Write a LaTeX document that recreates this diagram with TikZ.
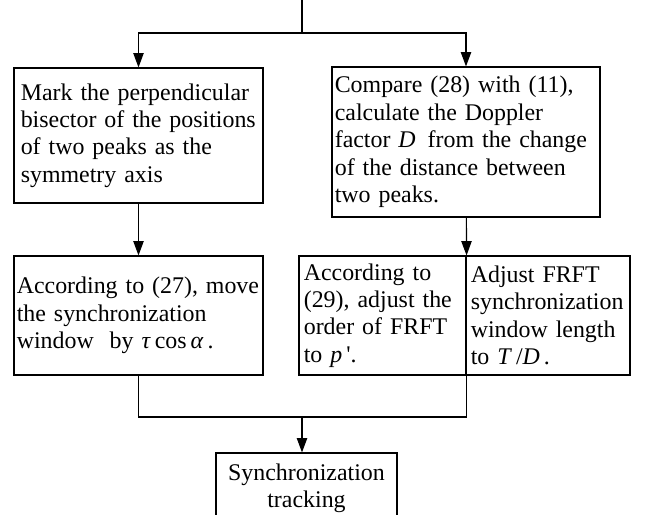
\documentclass[tikz,border=0pt]{standalone}
\usepackage{fontspec}
\setmainfont{Liberation Serif}
\usetikzlibrary{arrows.meta}

\begin{document}
\begin{tikzpicture}[line width=0.8pt,
        box/.style={draw,rectangle,align=left,inner xsep=0.17cm,inner ysep=0cm,
                    font=\fontsize{17}{19.5}\selectfont},
        arr/.style={arrows = -{Triangle[length=3.6mm,width=2.6mm]}}]

        %\draw [help lines] (0,0) grid (16,13);
        \clip (0,0) rectangle (16.15,12.85);

        \path   (7.55,12.85) coordinate (in)
                (7.55,12.025) coordinate (split)
                (3.4625,9.4625) node (mark) [box,text width=5.885cm,minimum height=3.375cm]
                        {Mark the perpendicular\\ bisector of the positions\\ of two peaks as the\\ symmetry axis}
                (11.65,9.3) node (compare) [box,inner xsep=0.07cm,text width=6.56cm,minimum height=3.75cm]
                        {Compare (28) with (11),\\ calculate the Doppler\\ factor \textit{D}\enspace from the change\\ of the distance between\\ two peaks.}
                (3.4625,4.9625) node (move) [box,inner xsep=0.07cm,text width=6.085cm,minimum height=2.975cm]
                        {According to (27), move\\ the synchronization\\ window\ \ by \textit{τ}\,cos\,\textit{α}\,.}
                (9.5625,4.9625) node (order) [box,inner xsep=0.12cm,text width=3.935cm,minimum height=2.975cm]
                        {According to\\ (29), adjust the\\ order of FRFT\\ to \textit{p}\,\textquotesingle.}
                (13.7,4.9625) node (window) [box,inner xsep=0.12cm,text width=3.86cm,minimum height=2.975cm]
                        {Adjust FRFT\\ synchronization\\ window length\\ to \textit{T}\,/\textit{D}\,.}
                (7.55,2.425) coordinate (join)
                (7.6625,0.65) node (track) [box,align=center,text width=4.185cm,minimum height=1.75cm]
                        {Synchronization\\ tracking};

        \draw (in) -- (split);
        \draw[arr] (split) -| (mark);
        \draw[arr] (split) -| (compare);
        \draw[arr] (mark) -- (move);
        \draw[arr] (compare) -- (order.north east);
        \draw (move.south) |- (join) -| (order.south east);
        \draw[arr] (join) -- (join |- track.north);

    \end{tikzpicture}
\end{document}
